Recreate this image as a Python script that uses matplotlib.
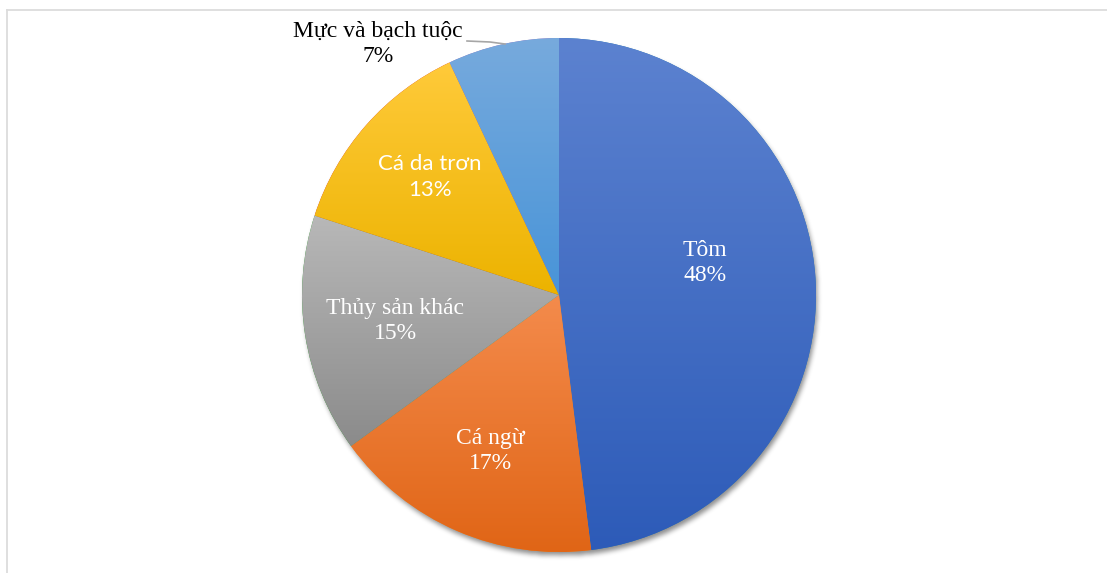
import numpy as np
import matplotlib.pyplot as plt
from matplotlib.colors import to_rgb

labels = ["Tôm", "Cá ngừ", "Thủy sản khác", "Cá da trơn", "Mực và bạch tuộc"]
shares = [48, 17, 15, 13, 7]
# light (top) and dark (bottom) end of each slice's fill
tops = ["#5c82d0", "#f48b4c", "#b8b8b8", "#ffca3a", "#77aadd"]
bottoms = ["#2d5bb8", "#e06516", "#8b8b8b", "#ecb300", "#4894d8"]

W, H = 1107, 573
fig = plt.figure(figsize=(W / 100, H / 100), dpi=100)
ax = fig.add_axes([0, 0, 1, 1])

cx, cy, r = 559, H - 295, 257


def box_blur(a, k):
    kern = np.ones(k) / k
    a = np.apply_along_axis(lambda v: np.convolve(v, kern, mode="same"), 0, a)
    a = np.apply_along_axis(lambda v: np.convolve(v, kern, mode="same"), 1, a)
    return a


# soft drop shadow under the pie
pad = 30
xs = np.arange(cx - r - pad, cx + r + pad)
ys = np.arange(cy - r - pad, cy + r + pad)
gx, gy = np.meshgrid(xs, ys)
disc = (((gx - cx - 2) ** 2 + (gy - cy + 4) ** 2) <= r ** 2).astype(float)
for _ in range(3):
    disc = box_blur(disc, 5)
shadow = np.zeros(disc.shape + (4,))
shadow[..., 3] = disc * 0.45
ax.imshow(shadow, extent=[xs[0], xs[-1], ys[0], ys[-1]], origin="lower",
          zorder=1, interpolation="bilinear")

wedges, _ = ax.pie(shares, startangle=90, counterclock=False,
                   center=(cx, cy), radius=r,
                   wedgeprops=dict(linewidth=0))

for w, top, bot in zip(wedges, tops, bottoms):
    w.set_zorder(2)
    ext = w.get_path().get_extents()
    t = np.linspace(0, 1, 256)[:, None]
    grad = (1 - t) * np.array(to_rgb(bot)) + t * np.array(to_rgb(top))
    im = ax.imshow(grad[:, None, :], extent=[ext.x0, ext.x1, ext.y0, ext.y1],
                   origin="lower", aspect="auto", zorder=3,
                   interpolation="bilinear")
    im.set_clip_path(w)

serif = "Liberation Serif"
fs = 17
ls = 1.3
ax.text(705, H - 263, "Tôm\n48%", color="white", fontsize=fs, family=serif,
        ha="center", va="center", linespacing=ls, zorder=5)
ax.text(490, H - 451, "Cá ngừ\n17%", color="white", fontsize=fs, family=serif,
        ha="center", va="center", linespacing=ls, zorder=5)
ax.text(395, H - 321, "Thủy sản khác\n15%", color="white", fontsize=fs,
        family=serif, ha="center", va="center", linespacing=ls, zorder=5)
ax.text(430, H - 177, "Cá da trơn\n13%", color="white", fontsize=16,
        family="Lato", ha="center", va="center", linespacing=1.35, zorder=5)
ax.text(378, H - 44, "Mực và bạch tuộc\n7%", color="black", fontsize=fs,
        family=serif, ha="center", va="center", linespacing=ls, zorder=5)
# leader line for the small slice
ax.plot([467, 490, 505], [H - 41, H - 42, H - 44], color="#a6a6a6",
        lw=1.2, zorder=5)

ax.set_xlim(0, W)
ax.set_ylim(0, H)
ax.set_aspect("auto")
ax.axis("off")

# chart-area border (top and left edges)
ax.plot([6.5, W], [H - 9.5, H - 9.5], color="#dcdcdc", lw=1.3, zorder=6)
ax.plot([6.5, 6.5], [0, H - 9.5], color="#dcdcdc", lw=1.3, zorder=6)

fig.savefig("out.png", dpi=100)
